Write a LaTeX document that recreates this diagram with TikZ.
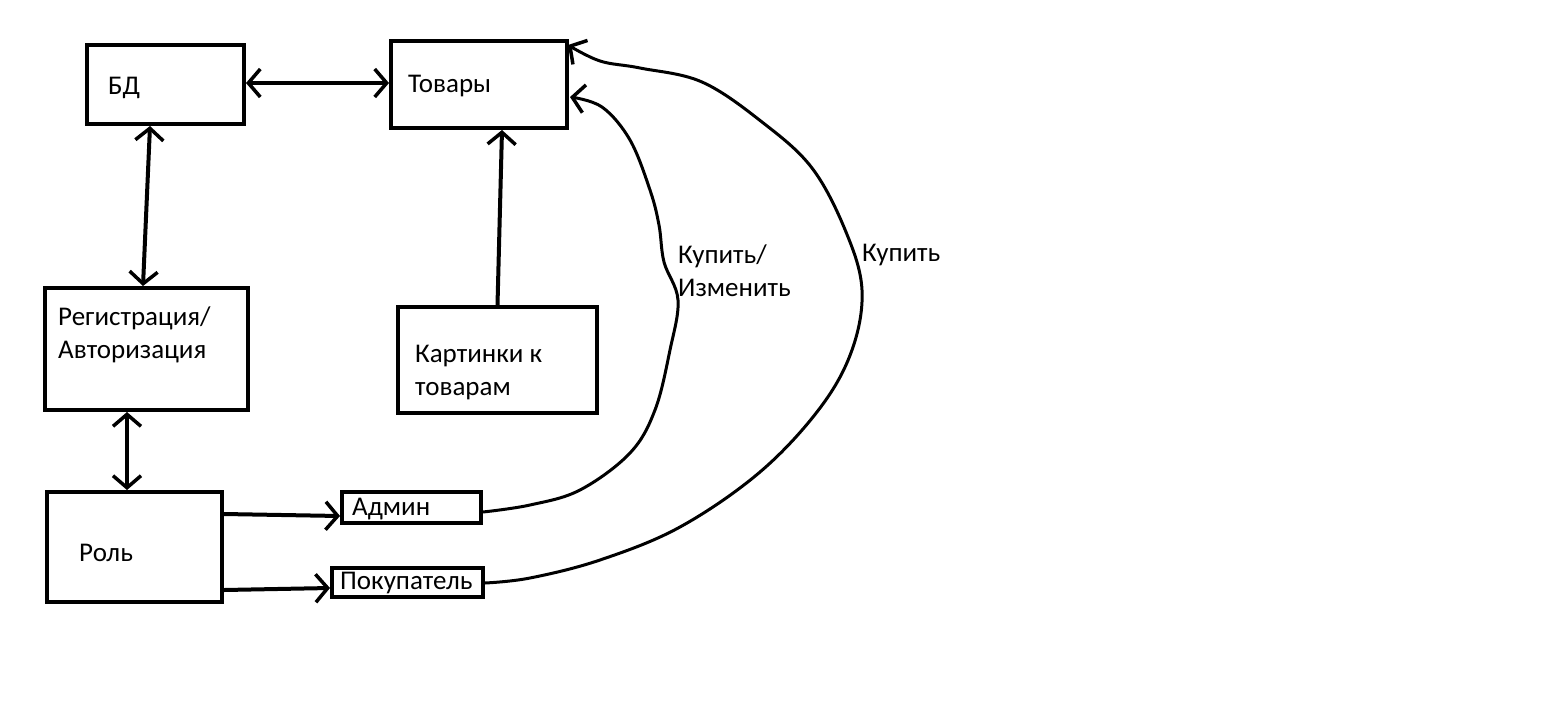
\documentclass[tikz,border=0pt]{standalone}
\usepackage{fontspec}
\setmainfont{Carlito}
\usetikzlibrary{arrows.meta}
\begin{document}
\begin{tikzpicture}[x=1pt,y=-1pt,
  box/.style={draw,line width=4pt,inner sep=0pt},
  lbl/.style={anchor=west,inner sep=0pt,font=\fontsize{27}{33}\selectfont,align=left},
  conn/.style={line width=4pt,line cap=round},
  tip/.style={-{Straight Barb[length=12pt,width=28pt,line width=3.5pt]}},
  tips/.style={{Straight Barb[length=12pt,width=28pt,line width=3.5pt]}-{Straight Barb[length=12pt,width=28pt,line width=3.5pt]}},
  curve/.style={line width=3pt,line cap=round}]
\useasboundingbox (0,0) rectangle (1551,713);
% boxes
\node[box,minimum width=157pt,minimum height=79pt] (bd) at (165.5,84.5) {};
\node[box,minimum width=176pt,minimum height=87pt] (tov) at (479,84.5) {};
\node[box,minimum width=203pt,minimum height=122pt] (reg) at (146.5,349) {};
\node[box,minimum width=199pt,minimum height=106pt] (kart) at (497.5,360) {};
\node[box,minimum width=175pt,minimum height=110pt] (rol) at (134.5,547) {};
\node[box,minimum width=139pt,minimum height=31pt] (adm) at (411.5,507.5) {};
\node[box,minimum width=151pt,minimum height=29pt] (pok) at (407.5,582.5) {};
% labels
\node[lbl] (tbd) at (108,88) {БД};
\node[lbl] (ttov) at (408,86) {Товары};
\node[lbl] (treg) at (58,335) {Регистрация/\\Авторизация};
\node[lbl] (tkart) at (415,373) {Картинки к\\товарам};
\node[lbl] (trol) at (79,553) {Роль};
\node[lbl] (tadm) at (352,509) {Админ};
\node[lbl] (tpok) at (340,583) {Покупатель};
\node[lbl] (tk1) at (678,271) {Купить/\\Изменить};
\node[lbl] (tk2) at (862,255) {Купить};
% connectors
\draw[conn,tips] (bd.east |- 0,83) -- (tov.west |- 0,83);
\draw[conn,tips] (bd.south -| 150,0) -- (reg.north -| 143,0);
\draw[conn,tips] (reg.south -| 127,0) -- (rol.north -| 127,0);
\draw[conn,tip] (kart.north) -- (tov.south -| 502,0);
\draw[conn,tip] (rol.east |- 0,514) -- (adm.west |- 0,516);
\draw[conn,tip] (rol.east |- 0,590) -- (pok.west |- 0,588);
\coordinate (e1) at (570,97);
\coordinate (e2) at (568,45);
\draw[curve,tip] plot[smooth,tension=0.6] coordinates {(adm.east |- 0,512) (530,505) (580,490) (630,453) (655,410) (670,350) (678,300) (664,262) (659,225) (650,190) (630,140) (602,107) (e1)};
\draw[curve,tip] plot[smooth,tension=0.6] coordinates {(pok.east |- 0,583) (530,578) (600,560) (680,527) (760,472) (820,408) (852,350) (862,290) (846,232) (812,168) (762,122) (702,82) (640,68) (600,61) (e2)};
\end{tikzpicture}
\end{document}
